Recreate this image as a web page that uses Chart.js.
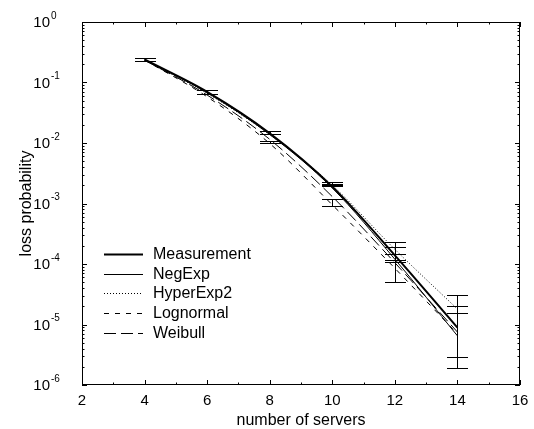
<!DOCTYPE html>
<html>
<head>
<meta charset="utf-8">
<script src="https://cdn.jsdelivr.net/npm/chart.js@4.4.0/dist/chart.umd.min.js"></script>
<style>
  html, body { margin: 0; padding: 0; background: #fff; }
  canvas { display: block; }
</style>
</head>
<body>
<canvas id="chart" width="534" height="429"></canvas>
<script>
// number of servers
const servers = [4, 6, 8, 10, 12, 14];

// loss probability per model
const measurement = [0.24, 0.070, 0.0145, 0.0019, 1.39e-4, 8.9e-6];
const negExp      = [0.235, 0.068, 0.0138, 0.0018, 1.2e-4, 6.5e-6];
const hyperExp2   = [0.235, 0.066, 0.0138, 0.0020, 1.75e-4, 1.8e-5];
const lognormal   = [0.235, 0.058, 0.0098, 0.00095, 8.5e-5, 7e-6];
const weibull     = [0.235, 0.062, 0.0115, 0.0013, 1.05e-4, 7.5e-6];

// confidence intervals (one entry per bar)
const errX  = [4, 6, 8, 8, 10, 10, 10, 12, 12, 12, 14, 14, 14];
const errLo = [0.23, 0.0645, 0.0141, 0.0099, 0.00195, 0.00205, 0.00091, 1.07e-4, 5.1e-5, 1.17e-4, 1.9e-6, 2.9e-6, 1.55e-5];
const errHi = [0.25, 0.076, 0.0156, 0.0108, 0.0021, 0.00226, 0.00117, 2.3e-4, 1.47e-4, 1.9e-4, 3.06e-5, 2.0e-5, 2.0e-5];

const xTicks = [2, 4, 6, 8, 10, 12, 14, 16];
const yExponents = [0, -1, -2, -3, -4, -5, -6];

const FONT = '"Liberation Sans", Arial, Helvetica, sans-serif';

function toPoints(values) {
    return servers.map((x, i) => ({ x: x, y: values[i] }));
}

function series(label, values, width, dash) {
    return {
        label: label,
        data: toPoints(values),
        borderColor: '#000',
        borderWidth: width,
        borderDash: dash,
        pointRadius: 0,
        fill: false,
        cubicInterpolationMode: 'monotone'
    };
}

// draws error bars, frame, inward ticks, y labels with exponents, and legend
const decorations = {
    id: 'decorations',
    afterDatasetsDraw(chart) {
        const { ctx, chartArea: a, scales } = chart;
        const xs = scales.x, ys = scales.y;
        ctx.save();
        ctx.strokeStyle = '#000';
        ctx.fillStyle = '#000';
        ctx.lineWidth = 1;
        ctx.setLineDash([]);

        // error bars
        const cap = 10.5;
        errX.forEach((v, i) => {
            const px = Math.round(xs.getPixelForValue(v)) + 0.5;
            const lo = Math.round(ys.getPixelForValue(errLo[i])) + 0.5;
            const hi = Math.round(ys.getPixelForValue(errHi[i])) + 0.5;
            ctx.beginPath();
            ctx.moveTo(px, lo); ctx.lineTo(px, hi);
            ctx.moveTo(px - cap, lo); ctx.lineTo(px + cap, lo);
            ctx.moveTo(px - cap, hi); ctx.lineTo(px + cap, hi);
            ctx.stroke();
        });

        // frame
        ctx.strokeRect(a.left + 0.5, a.top + 0.5, a.right - a.left - 1, a.bottom - a.top - 1);

        // x ticks
        ctx.beginPath();
        for (let v = xs.min; v <= xs.max; v++) {
            const px = Math.round(xs.getPixelForValue(v)) + 0.5;
            const len = v % 2 === 0 ? 5 : 2.5;
            ctx.moveTo(px, a.bottom); ctx.lineTo(px, a.bottom - len);
            ctx.moveTo(px, a.top); ctx.lineTo(px, a.top + len);
        }
        // y ticks
        yExponents.forEach(e => {
            const py = Math.round(ys.getPixelForValue(Math.pow(10, e))) + 0.5;
            ctx.moveTo(a.left, py); ctx.lineTo(a.left + 5, py);
            ctx.moveTo(a.right, py); ctx.lineTo(a.right - 5, py);
            if (e < 0) {
                for (let m = 2; m <= 9; m++) {
                    const q = Math.round(ys.getPixelForValue(m * Math.pow(10, e))) + 0.5;
                    ctx.moveTo(a.left, q); ctx.lineTo(a.left + 2.5, q);
                    ctx.moveTo(a.right, q); ctx.lineTo(a.right - 2.5, q);
                }
            }
        });
        ctx.stroke();

        // y labels 10^e
        yExponents.forEach(e => {
            const py = ys.getPixelForValue(Math.pow(10, e));
            ctx.font = '15px ' + FONT;
            ctx.textAlign = 'right';
            ctx.textBaseline = 'middle';
            ctx.fillText('10', 50, py + 1);
            ctx.font = '10px ' + FONT;
            ctx.textAlign = 'left';
            ctx.fillText(String(e), 51, py - 6);
        });

        // legend
        const lx = a.left + 22, ly = a.top + 232, step = 19.7;
        chart.data.datasets.forEach((ds, i) => {
            const y = Math.round(ly + i * step) + 0.5;
            ctx.lineWidth = ds.borderWidth;
            ctx.setLineDash(ds.borderDash || []);
            ctx.beginPath();
            ctx.moveTo(lx, y); ctx.lineTo(lx + 39, y);
            ctx.stroke();
            ctx.setLineDash([]);
            ctx.font = '16px ' + FONT;
            ctx.textAlign = 'left';
            ctx.textBaseline = 'middle';
            ctx.fillText(ds.label, lx + 49, y);
        });
        ctx.restore();
    }
};

new Chart(document.getElementById('chart'), {
    type: 'line',
    data: {
        datasets: [
            series('Measurement', measurement, 2, []),
            series('NegExp', negExp, 1, []),
            series('HyperExp2', hyperExp2, 1, [1, 2]),
            series('Lognormal', lognormal, 1, [5, 6]),
            series('Weibull', weibull, 1, [12, 5])
        ]
    },
    options: {
        responsive: false,
        animation: false,
        devicePixelRatio: 1,
        layout: { autoPadding: false, padding: { left: 0, top: 22, right: 14, bottom: 0 } },
        plugins: { legend: { display: false }, tooltip: { enabled: false } },
        scales: {
            x: {
                type: 'linear',
                min: 2,
                max: 16,
                afterFit: s => { s.height = 44; },
                afterBuildTicks: s => { s.ticks = xTicks.map(v => ({ value: v })); },
                grid: { display: false },
                border: { display: false },
                ticks: { color: '#000', font: { family: FONT, size: 15 }, padding: -1, maxRotation: 0 },
                title: { display: true, text: 'number of servers', color: '#000', font: { family: FONT, size: 16 }, padding: { top: 0, bottom: -1 } }
            },
            y: {
                type: 'logarithmic',
                min: 1e-6,
                max: 1,
                afterFit: s => { s.width = 82; },
                grid: { display: false },
                border: { display: false },
                ticks: { display: false },
                title: { display: true, text: 'loss probability', color: '#000', font: { family: FONT, size: 16 }, padding: { top: 17, bottom: 0 } }
            }
        }
    },
    plugins: [decorations]
});
</script>
</body>
</html>
